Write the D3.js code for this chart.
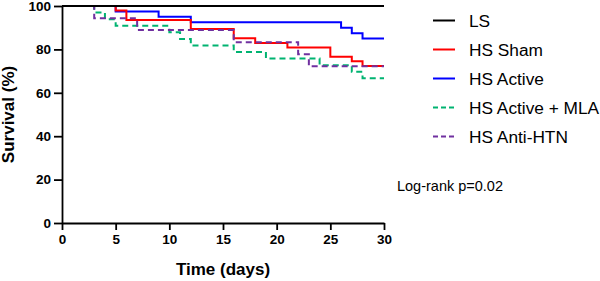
<!DOCTYPE html>
<html>
<head>
<meta charset="utf-8">
<script src="https://cdn.jsdelivr.net/npm/d3@7"></script>
<style>
  body { margin: 0; background: #fff; }
  svg { display: block; font-family: "Liberation Sans", Arial, sans-serif; }
</style>
</head>
<body>
<div id="chart"></div>
<script>
// Kaplan-Meier steps (time in days, survival in %)
const lsTimes = [0, 30];
const lsSurv = [100, 100];
const shamTimes = [0, 5, 6, 12, 16, 18, 21, 25, 27, 28, 30];
const shamSurv = [100, 97.9, 93.6, 89.4, 85.1, 83.0, 80.9, 76.6, 74.5, 72.3, 72.3];
const activeTimes = [0, 5, 9, 12, 26, 27, 28, 30];
const activeSurv = [100, 97.5, 95, 92.5, 90, 87.5, 85, 85];
const mlaTimes = [0, 3, 4, 5, 10, 11, 12, 16, 19, 24, 27, 28, 30];
const mlaSurv = [100, 97, 93.9, 90.9, 87.9, 84.8, 81.8, 78.8, 75.8, 72.7, 69.7, 66.7, 66.7];
const htnTimes = [0, 3, 7, 16, 22, 23, 30];
const htnSurv = [100, 94.4, 88.9, 83.3, 77.8, 72.2, 72.2];

const xTicks = [0, 5, 10, 15, 20, 25, 30];
const yTicks = [0, 20, 40, 60, 80, 100];
const legendNames = ['LS', 'HS Sham', 'HS Active', 'HS Active + MLA', 'HS Anti-HTN'];

const series = [
    { name: 'HS Active', t: activeTimes, s: activeSurv, color: '#0000ff', dash: null },
    { name: 'HS Sham', t: shamTimes, s: shamSurv, color: '#ff0000', dash: null },
    { name: 'HS Active + MLA', t: mlaTimes, s: mlaSurv, color: '#00b371', dash: '6,4' },
    { name: 'HS Anti-HTN', t: htnTimes, s: htnSurv, color: '#7030a0', dash: '6,4' },
    { name: 'LS', t: lsTimes, s: lsSurv, color: '#000000', dash: null }
];

const W = 600, H = 281;
const margin = { top: 6, right: 216, bottom: 58, left: 62 };

const svg = d3.select('#chart')
    .append('svg')
    .attr('width', W)
    .attr('height', H);

const x = d3.scaleLinear()
    .domain([0, 30])
    .range([margin.left, W - margin.right]);
const y = d3.scaleLinear()
    .domain([0, 100])
    .range([H - margin.bottom, margin.top]);

// curves
const line = d3.line()
    .x(d => x(d[0]))
    .y(d => y(d[1]))
    .curve(d3.curveStepAfter);

series.forEach(se => {
    const pts = se.t.map((t, i) => [t, se.s[i]]);
    svg.append('path')
        .attr('d', line(pts))
        .attr('fill', 'none')
        .attr('stroke', se.color)
        .attr('stroke-width', 2)
        .attr('stroke-dasharray', se.dash);
});

// axes
const xAxis = d3.axisBottom(x).tickValues(xTicks).tickSize(7).tickPadding(4).tickSizeOuter(0);
const yAxis = d3.axisLeft(y).tickValues(yTicks).tickSize(8).tickPadding(3).tickSizeOuter(0);

const gx = svg.append('g')
    .attr('transform', `translate(0, ${y(0)})`)
    .call(xAxis);
const gy = svg.append('g')
    .attr('transform', `translate(${x(0)}, 0)`)
    .call(yAxis);

[gx, gy].forEach(g => {
    g.selectAll('path, line').attr('stroke', '#000').attr('stroke-width', 1.8);
    g.selectAll('text')
        .attr('fill', '#000')
        .style('font-family', '"Liberation Sans", Arial, sans-serif')
        .style('font-size', '13.5px')
        .style('font-weight', 'bold');
});

// axis titles
svg.append('text')
    .attr('x', (x(0) + x(30)) / 2)
    .attr('y', 275)
    .attr('text-anchor', 'middle')
    .style('font-size', '17px')
    .style('font-weight', 'bold')
    .text('Time (days)');

svg.append('text')
    .attr('transform', `translate(14, ${(y(0) + y(100)) / 2}) rotate(-90)`)
    .attr('text-anchor', 'middle')
    .style('font-size', '17px')
    .style('font-weight', 'bold')
    .text('Survival (%)');

// log-rank note
svg.append('text')
    .attr('x', 503)
    .attr('y', 191)
    .attr('text-anchor', 'end')
    .style('font-size', '14.5px')
    .text('Log-rank p=0.02');

// legend
const legendStyle = {};
series.forEach(se => { legendStyle[se.name] = se; });
const legend = svg.append('g');
legendNames.forEach((name, i) => {
    const se = legendStyle[name];
    const ly = 20.5 + i * 29;
    legend.append('line')
        .attr('x1', 433).attr('x2', 455)
        .attr('y1', ly).attr('y2', ly)
        .attr('stroke', se.color)
        .attr('stroke-width', 2)
        .attr('stroke-dasharray', se.dash ? '5,3' : null);
    legend.append('text')
        .attr('x', 469)
        .attr('y', ly + 6)
        .style('font-size', '17.3px')
        .text(name);
});
</script>
</body>
</html>
